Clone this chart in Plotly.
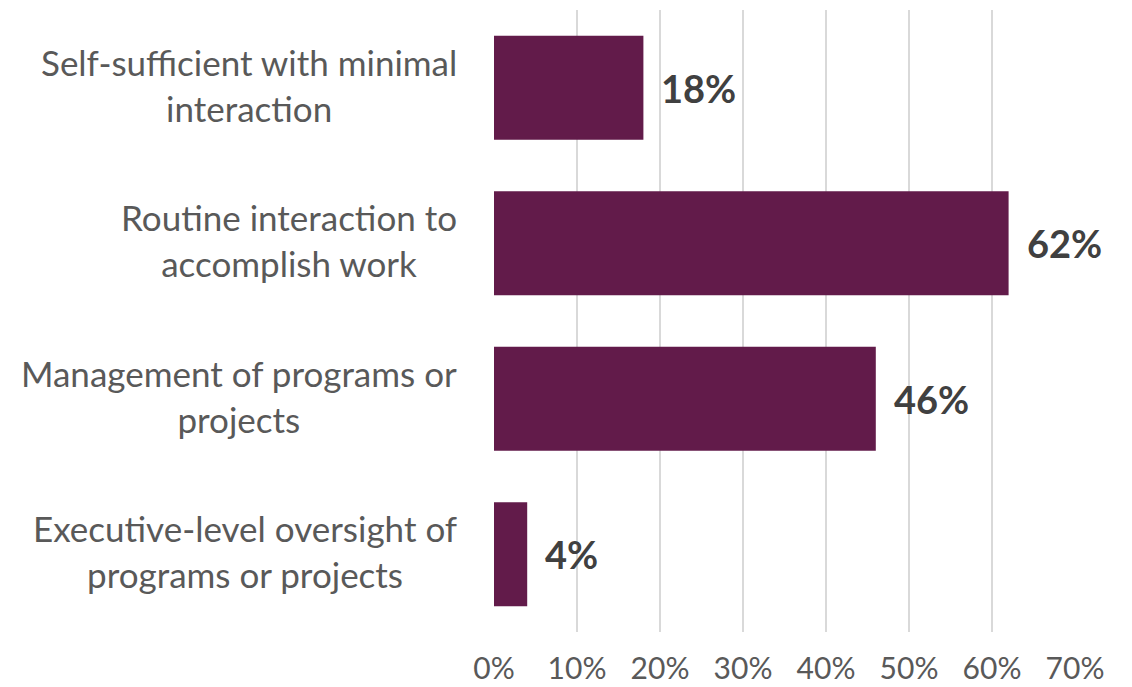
import plotly.graph_objects as go

# Share of respondents by level of interaction
categories = [
    "Self-sufficient with minimal<br>interaction",
    "Routine interaction to<br>accomplish work",
    "Management of programs or<br>projects",
    "Executive-level oversight of<br>programs or projects",
]
values = [18, 62, 46, 4]
tick_values = [0, 10, 20, 30, 40, 50, 60, 70]
tick_labels = ["0%", "10%", "20%", "30%", "40%", "50%", "60%", "70%"]

bar_color = "#621B4A"
font_family = "Lato, 'Open Sans', sans-serif"

fig = go.Figure(
    go.Bar(
        x=values,
        y=categories,
        orientation="h",
        marker=dict(color=bar_color, line=dict(width=0)),
        width=0.67,
        hoverinfo="skip",
    )
)

annotations = []
for cat, v in zip(categories, values):
    # Category label, centred lines, right-aligned against the axis
    annotations.append(dict(
        x=0, xref="paper", y=cat, yref="y",
        text=cat, showarrow=False,
        xanchor="right", yanchor="middle", align="center",
        xshift=-35, yshift=3,
        font=dict(family=font_family, size=35, color="#595959"),
    ))
    # Value label just past the end of the bar
    annotations.append(dict(
        x=v, xref="x", y=cat, yref="y",
        text=f"<b>{v}%</b>", showarrow=False,
        xanchor="left", yanchor="middle",
        xshift=16,
        font=dict(family=font_family, size=38, color="#404040"),
    ))

fig.update_layout(
    width=1132, height=687,
    margin=dict(l=494, r=57, t=10, b=55, autoexpand=False),
    paper_bgcolor="white", plot_bgcolor="white",
    showlegend=False,
    bargap=0.33,
    annotations=annotations,
    xaxis=dict(
        range=[0, 70],
        tickvals=tick_values,
        ticktext=tick_labels,
        showgrid=True, gridcolor="#d9d9d9", gridwidth=2,
        zeroline=False, showline=False,
        ticks="", ticklabelstandoff=16,
        tickfont=dict(family=font_family, size=30, color="#595959"),
        automargin=False,
        fixedrange=True,
    ),
    yaxis=dict(
        range=[3.5, -0.5],
        showticklabels=False,
        showgrid=False, zeroline=False, showline=False,
        ticks="",
        automargin=False,
        fixedrange=True,
    ),
)

fig.write_html("out.html")
